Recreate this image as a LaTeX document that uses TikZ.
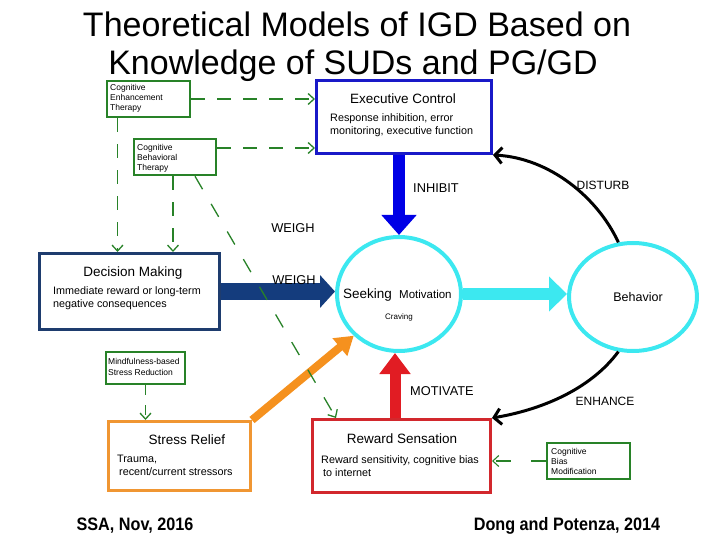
\documentclass[tikz,border=0pt]{standalone}
\usepackage{fontspec}
\setmainfont{Liberation Sans}
\newfontfamily\narrowbold[FakeStretch=0.9]{Liberation Sans}
\usetikzlibrary{arrows.meta,shapes.geometric}
\definecolor{tgreen}{RGB}{40,130,40}
\definecolor{ecblue}{RGB}{25,25,200}
\definecolor{inhblue}{RGB}{0,0,230}
\definecolor{navy}{RGB}{30,60,110}
\definecolor{navyarrow}{RGB}{20,60,125}
\definecolor{tcyan}{RGB}{60,232,240}
\definecolor{tred}{RGB}{225,28,35}
\definecolor{rsred}{RGB}{210,40,45}
\definecolor{torange}{RGB}{245,145,30}
\definecolor{srorange}{RGB}{240,150,50}
\tikzset{
  fs/.style={font=\fontsize{#1}{#1}\selectfont},
  boxbase/.style={rectangle, inner sep=0pt},
  greenbox/.style={boxbase, draw=tgreen, line width=2.5pt},
  ecbox/.style={boxbase, draw=ecblue, line width=3pt},
  dmbox/.style={boxbase, draw=navy, line width=3pt},
  rsbox/.style={boxbase, draw=rsred, line width=3pt},
  srbox/.style={boxbase, draw=srorange, line width=3pt},
  oval/.style={ellipse, draw=tcyan, line width=4pt, inner sep=0pt},
  txt/.style={inner sep=0pt, anchor=base west},
  ctxt/.style={inner sep=0pt, anchor=base},
  small/.style={txt, fs=8.5},
  boxtitle/.style={ctxt, fs=13.5},
  boxbody/.style={txt, fs=10.8},
  lbl/.style={ctxt, fs=12.8},
  greendash/.style={draw=tgreen, line width=1.3pt, dash pattern=on 14pt off 12pt, -{Straight Barb[length=6pt,width=11pt]}},
  curved/.style={draw=black, line width=3pt, -{Straight Barb[length=7pt,width=16pt]}},
}
\begin{document}
\begin{tikzpicture}[x=1pt,y=-1pt]
\useasboundingbox (0,0) rectangle (720,540);
% title
\node[ctxt, fs=34] (t1) at (357,37) {Theoretical Models of IGD Based on};
\node[ctxt, fs=34] (t2) at (353,75) {Knowledge of SUDs and PG/GD};
% boxes
\node[greenbox, minimum width=83, minimum height=36] (cet) at (148.5,99) {};
\node[greenbox, minimum width=82, minimum height=36] (cbt) at (175,157) {};
\node[ecbox, minimum width=175, minimum height=73] (ec) at (404,117) {};
\node[dmbox, minimum width=180, minimum height=76] (dm) at (129.5,291.5) {};
\node[greenbox, minimum width=79, minimum height=32] (mbsr) at (145.5,368) {};
\node[srbox, minimum width=142, minimum height=69] (sr) at (179.5,456) {};
\node[rsbox, minimum width=178, minimum height=73] (rs) at (401.5,456) {};
\node[greenbox, minimum width=83, minimum height=36] (cbm) at (588.5,461) {};
\node[oval, minimum width=124, minimum height=114] (seek) at (399,294) {};
\node[oval, minimum width=128, minimum height=108] (beh) at (633,297) {};
% box texts
\node[small] (cet1) at (110,91) {Cognitive};
\node[small] (cet2) at (110,101) {Enhancement};
\node[small] (cet3) at (110,111) {Therapy};
\node[small] (cbt1) at (137,151) {Cognitive};
\node[small] (cbt2) at (137,161) {Behavioral};
\node[small] (cbt3) at (137,171) {Therapy};
\node[boxtitle] (ect) at (403,104) {Executive Control};
\node[boxbody] (ec1) at (330,122) {Response inhibition, error};
\node[boxbody] (ec2) at (330,135) {monitoring, executive function};
\node[boxtitle] (dmt) at (133,276) {Decision Making};
\node[boxbody] (dm1) at (53,294) {Immediate reward or long-term};
\node[boxbody] (dm2) at (53,307) {negative consequences};
\node[small] (mb1) at (108,364) {Mindfulness-based};
\node[small] (mb2) at (108,375) {Stress Reduction};
\node[boxtitle] (srt) at (187,444) {Stress Relief};
\node[boxbody] (sr1) at (117,462) {Trauma,};
\node[boxbody] (sr2) at (119,475) {recent/current stressors};
\node[boxtitle] (rst) at (402,443) {Reward Sensation};
\node[boxbody] (rs1) at (321,463) {Reward sensitivity, cognitive bias};
\node[boxbody] (rs2) at (323,476) {to internet};
\node[small] (cbm1) at (551,454) {Cognitive};
\node[small] (cbm2) at (551,464) {Bias};
\node[small] (cbm3) at (551,474) {Modification};
\node[txt, fs=13.5] (sk1) at (343,298) {Seeking};
\node[txt, fs=11.5] (sk2) at (399,298) {Motivation};
\node[ctxt, fs=8] (sk3) at (399,319) {Craving};
\node[ctxt, fs=12.5] (bh) at (638,301) {Behavior};
% thick arrows
\draw[draw=inhblue, line width=12pt, -{Triangle[length=20pt,width=34pt]}] (ec.south -| seek.north) -- (seek.north);
\draw[draw=navyarrow, line width=17pt, -{Triangle[length=15pt,width=32pt]}] (dm.east) -- (dm.east -| seek.west);
\draw[draw=tcyan, line width=12pt, -{Triangle[length=18pt,width=34pt]}] (seek.east) -- (seek.east -| beh.west);
\draw[draw=tred, line width=11pt, -{Triangle[length=21pt,width=30pt]}] ([xshift=-4pt]rs.north -| seek.south) -- ([xshift=-4pt]seek.south);
\draw[draw=torange, line width=8pt, -{Triangle[length=18pt,width=22pt]}] (sr.north east) -- (seek.south west);
% curved arrows
\draw[curved] (beh.105) .. controls (598,198) and (550,158) .. (ec.south east);
\draw[curved] (beh.255) .. controls (590,390) and (540,410) .. (rs.north east);
% green dashed arrows
\draw[greendash] (cet.east) -- (cet.east -| ec.west);
\draw[greendash] ([yshift=9pt]cbt.east) -- ([yshift=9pt]cbt.east -| ec.west);
\draw[greendash] ([xshift=-31pt]cet.south) -- ([xshift=-31pt]cet.south |- dm.north);
\draw[greendash] ([xshift=-2pt]cbt.south) -- ([xshift=-2pt]cbt.south |- dm.north);
\draw[greendash, dash pattern=on 15pt off 17pt] ([xshift=20pt]cbt.south) -- ([xshift=25pt]rs.north west);
\draw[greendash, dash pattern=on 10pt off 10pt] (mbsr.south) -- (mbsr.south |- sr.north);
\draw[greendash, line width=1.1pt, dash pattern=on 15pt off 20pt] (cbm.west) -- (cbm.west -| rs.east);
% labels
\node[lbl] (w1) at (293,233) {WEIGH};
\node[lbl] (w2) at (294,284) {WEIGH};
\node[lbl] (inh) at (436,193) {INHIBIT};
\node[lbl, fs=12] (dis) at (603,190) {DISTURB};
\node[lbl] (mot) at (442,395) {MOTIVATE};
\node[lbl, fs=12] (enh) at (605,405) {ENHANCE};
% footer
\node[ctxt, font=\narrowbold\bfseries\fontsize{18}{18}\selectfont] (f1) at (135,530) {SSA, Nov, 2016};
\node[ctxt, font=\narrowbold\bfseries\fontsize{18}{18}\selectfont] (f2) at (567,530) {Dong and Potenza, 2014};
\end{tikzpicture}
\end{document}
